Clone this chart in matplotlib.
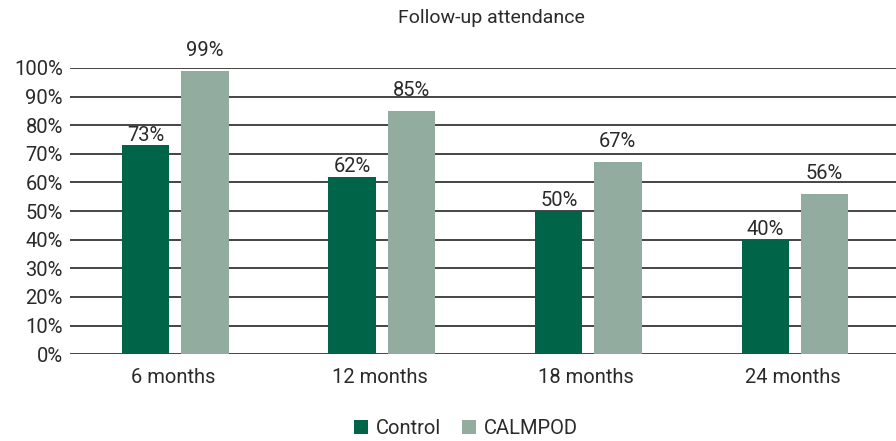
import numpy as np
import matplotlib.pyplot as plt

plt.rcParams['font.family'] = ['Roboto', 'DejaVu Sans']

categories = ['6 months', '12 months', '18 months', '24 months']
control = [73, 62, 50, 40]
calmpod = [99, 85, 67, 56]

color_control = '#006548'
color_calmpod = '#92ADA0'
text_color = '#2a2a2a'
fs = 14.5

fig = plt.figure(figsize=(8.96, 4.41), dpi=100)
ax = fig.add_axes([0.078, 0.197, 0.922, 0.649])

ind = np.arange(len(categories))
width = 0.23
off = 0.143

b1 = ax.bar(ind - off + 0.01, control, width, color=color_control, label='Control', zorder=3)
b2 = ax.bar(ind + off + 0.01, calmpod, width, color=color_calmpod, label='CALMPOD', zorder=3)

for bars, vals, gap in ((b1, control, 0.2), (b2, calmpod, 3.8)):
    for rect, v in zip(bars, vals):
        ax.text(rect.get_x() + rect.get_width() / 2, v + gap, f'{v}%',
                ha='center', va='bottom', fontsize=fs, color=text_color)

ax.set_xlim(-0.5, 3.5)
ax.set_ylim(0, 100)
ax.set_yticks(np.arange(0, 101, 10))
ax.set_yticklabels([f'{t}%' for t in range(0, 101, 10)])
ax.set_xticks(ind)
ax.set_xticklabels(categories)
ax.tick_params(axis='y', length=0, labelsize=fs, colors=text_color, pad=5)
ax.tick_params(axis='x', length=0, labelsize=fs, colors=text_color, pad=10)
ax.yaxis.grid(True, color='#444444', linewidth=1.4, zorder=0)
ax.set_axisbelow(True)
for s in ax.spines.values():
    s.set_visible(False)

ax.set_title('Follow-up attendance', fontsize=14, color=text_color, pad=32, x=0.51)

fig.legend(loc='lower center', bbox_to_anchor=(0.52, -0.035), ncol=2, frameon=False,
           handlelength=0.7, handleheight=0.7, handletextpad=0.4,
           columnspacing=1.0, prop={'size': fs})
for t in fig.legends[0].get_texts():
    t.set_color(text_color)

fig.savefig('out.png', dpi=100)
